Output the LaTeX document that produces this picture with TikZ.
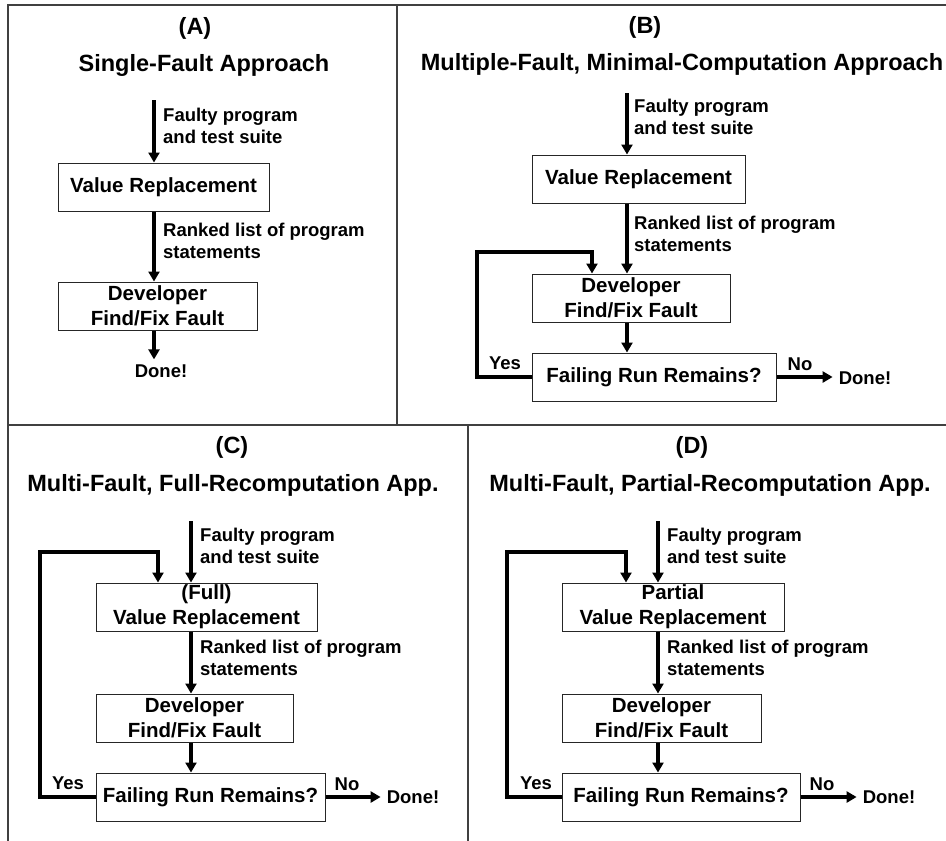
\documentclass[tikz,border=0pt]{standalone}
\usepackage{fontspec}
\setmainfont{Liberation Sans}
\usetikzlibrary{arrows.meta}
\tikzset{
  ttl/.style={font=\bfseries\fontsize{23.5}{28}\selectfont, inner sep=0pt},
  box/.style={draw, draw=black!85, line width=1pt, inner sep=0pt, minimum height=48pt, align=center,
    font=\bfseries\fontsize{20.5}{25}\selectfont},
  lbl/.style={font=\bfseries\fontsize{18.5}{22}\selectfont, align=left, anchor=west, inner sep=0pt},
  sm/.style={font=\bfseries\fontsize{18.5}{22}\selectfont, inner sep=0pt},
  arr/.style={line width=3.8pt, line join=miter, -{Triangle[length=10pt,width=11pt]}},
  frame/.style={line width=1.3pt, draw=black!75},
}
\begin{document}
\begin{tikzpicture}[x=1pt,y=-1pt]
\useasboundingbox (0,0) rectangle (946,841);
% frame lines
\draw[frame] (8,841) -- (8,5) -- (946,5);
\draw[frame] (397,5) -- (397,425);
\draw[frame] (8,425) -- (946,425);
\draw[frame] (468,425) -- (468,841);

% ---------- Panel A ----------
\node[ttl] (labA) at (195,28) {(A)};
\node[ttl] (titA) at (204,65) {Single-Fault Approach};
\coordinate (inA) at (154,100);
\node[box, minimum width=211pt] (vrA) at (163.5,187) {Value Replacement};
\node[box, minimum width=199pt] (devA) at (157.5,306) {Developer\\Find/Fix Fault};
\node[sm] (doneA) at (161,371) {Done!};
\node[lbl] (fA) at (163,126) {Faulty program\\and test suite};
\node[lbl] (rA) at (163,241) {Ranked list of program\\statements};
\draw[arr] (inA) -- (inA |- vrA.north);
\draw[arr] (vrA.south -| inA) -- (devA.north -| inA);
\draw[arr] (devA.south -| inA) -- ([yshift=5pt]doneA.north -| inA);

% ---------- Panel B ----------
\node[ttl] (labB) at (645,27) {(B)};
\node[ttl] (titB) at (682,64) {Multiple-Fault, Minimal-Computation Approach};
\coordinate (inB) at (627,93);
\node[box, minimum width=213pt] (vrB) at (638.5,179) {Value Replacement};
\node[box, minimum width=198pt] (devB) at (631,298) {Developer\\Find/Fix Fault};
\node[box, minimum width=244pt] (failB) at (654,377) {Failing Run Remains?};
\node[lbl] (fB) at (634,116.5) {Faulty program\\and test suite};
\node[lbl] (rB) at (634,233.5) {Ranked list of program\\statements};
\node[sm] (yesB) at (505,363) {Yes};
\node[sm] (noB) at (800,364) {No};
\node[sm] (doneB) at (865,378) {Done!};
\coordinate (lB) at (477,252);
\coordinate (rtB) at (592,252);
\draw[arr] (inB) -- (inB |- vrB.north);
\draw[arr] (vrB.south -| inB) -- (devB.north -| inB);
\draw[arr] (devB.south -| inB) -- (failB.north -| inB);
\draw[arr] (failB.west) -| (lB) -- (rtB) -- (rtB |- devB.north);
\draw[arr] (failB.east) -- ([xshift=-6pt]failB.east -| doneB.west);

% ---------- Panel C ----------
\node[ttl] (labC) at (232,447) {(C)};
\node[ttl] (titC) at (233,485) {Multi-Fault, Full-Recomputation App.};
\coordinate (inC) at (191,521);
\node[box, minimum width=221pt] (vrC) at (206.5,607) {(Full)\\Value Replacement};
\node[box, minimum width=197pt] (devC) at (194.5,718) {Developer\\Find/Fix Fault};
\node[box, minimum width=229pt] (failC) at (210.5,797) {Failing Run Remains?};
\node[lbl] (fC) at (200,546) {Faulty program\\and test suite};
\node[lbl] (rC) at (200,658) {Ranked list of program\\statements};
\node[sm] (yesC) at (68,783) {Yes};
\node[sm] (noC) at (347,784) {No};
\node[sm] (doneC) at (413,797) {Done!};
\coordinate (lC) at (40,552);
\coordinate (rtC) at (158,552);
\draw[arr] (inC) -- (inC |- vrC.north);
\draw[arr] (vrC.south -| inC) -- (devC.north -| inC);
\draw[arr] (devC.south -| inC) -- (failC.north -| inC);
\draw[arr] (failC.west) -| (lC) -- (rtC) -- (rtC |- vrC.north);
\draw[arr] (failC.east) -- ([xshift=-6pt]failC.east -| doneC.west);

% ---------- Panel D ----------
\node[ttl] (labD) at (692,447) {(D)};
\node[ttl] (titD) at (710,485) {Multi-Fault, Partial-Recomputation App.};
\coordinate (inD) at (658,521);
\node[box, minimum width=222pt] (vrD) at (673,607) {Partial\\Value Replacement};
\node[box, minimum width=199pt] (devD) at (661.5,718) {Developer\\Find/Fix Fault};
\node[box, minimum width=238pt] (failD) at (681,797) {Failing Run Remains?};
\node[lbl] (fD) at (667,546) {Faulty program\\and test suite};
\node[lbl] (rD) at (667,658) {Ranked list of program\\statements};
\node[sm] (yesD) at (536,783) {Yes};
\node[sm] (noD) at (822,784) {No};
\node[sm] (doneD) at (889,797) {Done!};
\coordinate (lD) at (507,552);
\coordinate (rtD) at (626,552);
\draw[arr] (inD) -- (inD |- vrD.north);
\draw[arr] (vrD.south -| inD) -- (devD.north -| inD);
\draw[arr] (devD.south -| inD) -- (failD.north -| inD);
\draw[arr] (failD.west) -| (lD) -- (rtD) -- (rtD |- vrD.north);
\draw[arr] (failD.east) -- ([xshift=-6pt]failD.east -| doneD.west);
\end{tikzpicture}
\end{document}
